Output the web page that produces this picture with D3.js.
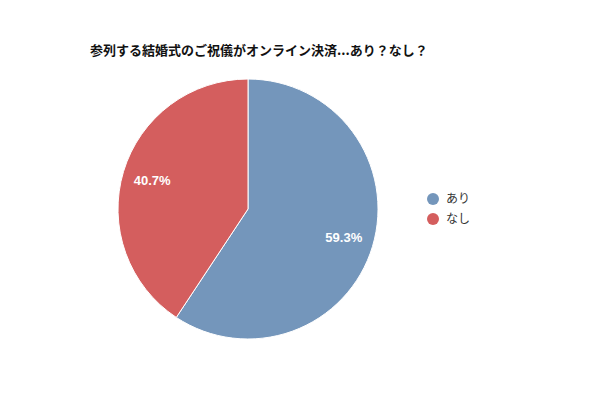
<!DOCTYPE html>
<html>
<head>
<meta charset="utf-8">
<script src="https://cdnjs.cloudflare.com/ajax/libs/d3/7.8.5/d3.min.js"></script>
<style>
	body { margin: 0; background: #fff; }
	svg { font-family: "Noto Sans CJK JP", "Noto Sans", sans-serif; }
</style>
</head>
<body>
<svg width="600" height="400"></svg>
<script>
var categories = ["あり", "なし"];
var values = [59.3, 40.7];
var colors = ["#7496bb", "#d45e5e"];
var title = "参列する結婚式のご祝儀がオンライン決済...あり？なし？";

var svg = d3.select("svg"),
	cx = 248, cy = 209, radius = 130;

svg.append("text")
	.attr("x", 90)
	.attr("y", 55)
	.style("font-size", "13px")
	.style("font-weight", "bold")
	.style("fill", "#111")
	.text(title);

var pie = d3.pie().sort(null).value(function(d) { return d; });
var arc = d3.arc().innerRadius(0).outerRadius(radius);
var labelArc = d3.arc().innerRadius(100).outerRadius(100);

var g = svg.append("g").attr("transform", "translate(" + cx + "," + cy + ")");

var arcs = pie(values);

g.selectAll("path")
	.data(arcs)
	.enter()
	.append("path")
	.attr("d", arc)
	.style("fill", function(d, i) { return colors[i]; })
	.style("stroke", "#fff")
	.style("stroke-width", 1);

g.selectAll(".lbl")
	.data(arcs)
	.enter()
	.append("text")
	.attr("class", "lbl")
	.attr("transform", function(d) { return "translate(" + labelArc.centroid(d) + ")"; })
	.attr("text-anchor", "middle")
	.attr("dy", "0.35em")
	.style("font-family", "'Liberation Sans', Arial, sans-serif")
	.style("font-size", "13px")
	.style("font-weight", "bold")
	.style("fill", "#fff")
	.text(function(d) { return d.data.toFixed(1) + "%"; });

//legend
var legend = svg.append("g").attr("transform", "translate(433,199)");
var items = legend.selectAll("g")
	.data(categories)
	.enter()
	.append("g")
	.attr("transform", function(d, i) { return "translate(0," + i * 20 + ")"; });

items.append("circle")
	.attr("r", 6)
	.style("fill", function(d, i) { return colors[i]; });

items.append("text")
	.attr("x", 13)
	.attr("dy", "0.35em")
	.style("font-size", "12px")
	.style("fill", "#333")
	.text(function(d) { return d; });
</script>
</body>
</html>
